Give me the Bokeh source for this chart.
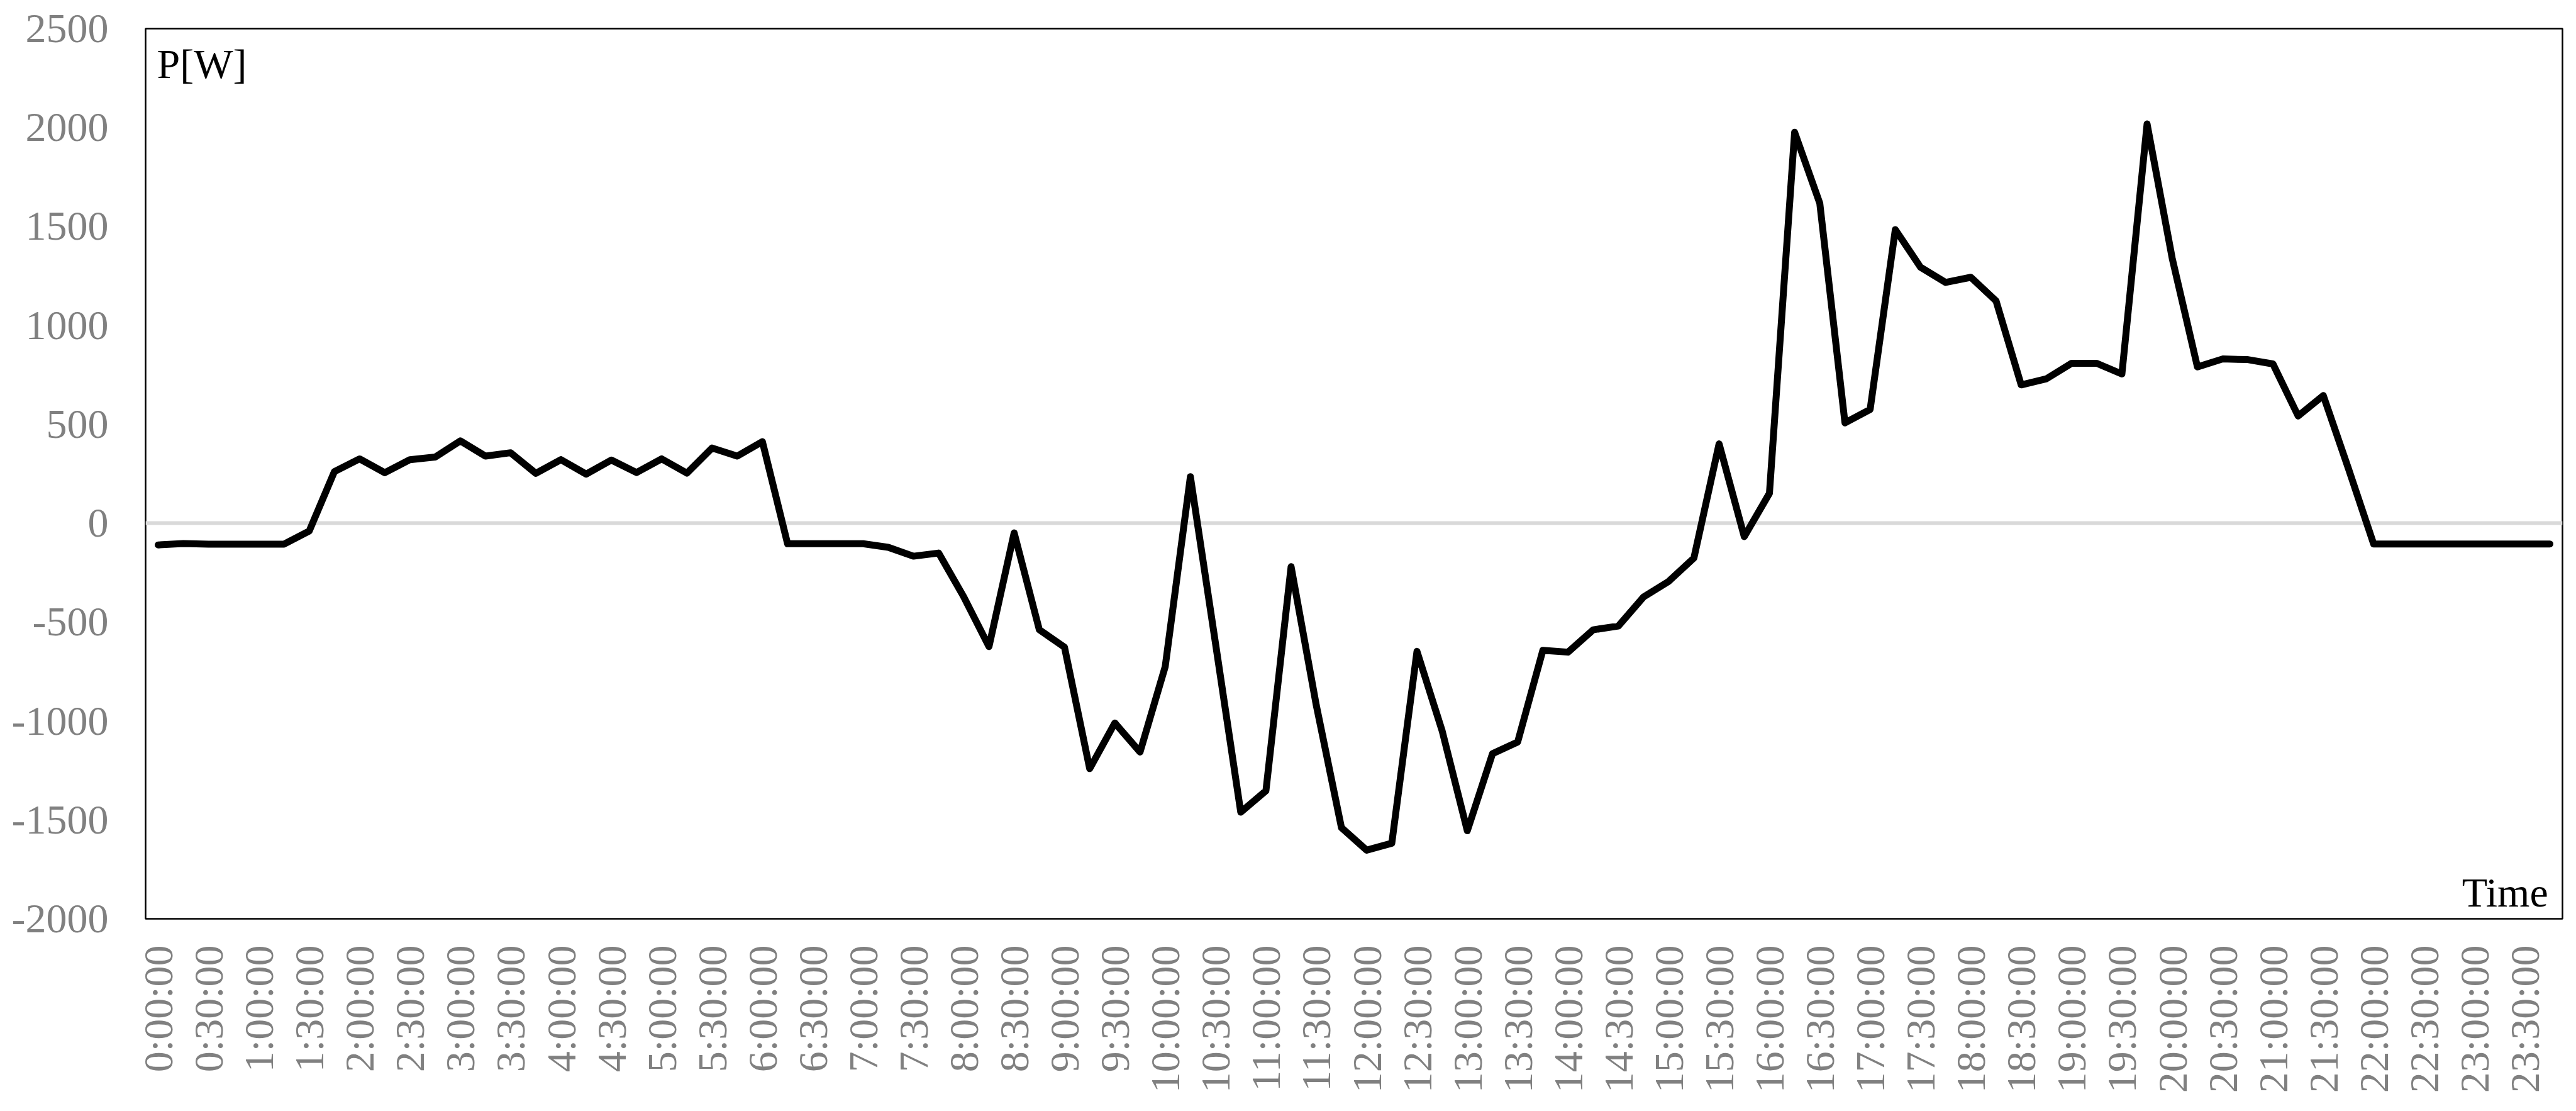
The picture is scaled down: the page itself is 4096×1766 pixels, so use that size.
from math import pi
from bokeh.plotting import figure
from bokeh.models import (Range1d, FixedTicker, CustomJSTickFormatter, Span, Label,
                          ColumnDataSource)
from bokeh.embed import file_html
from bokeh.resources import INLINE

# ---- data -------------------------------------------------------------
times = [f"{h}:{m:02d}:00" for h in range(24) for m in (0, 15, 30, 45)]

power = [
    -110, -103, -106, -106, -106, -106, -40, 261, 325, 255, 321, 334,
    416, 339, 356, 252, 321, 248, 319, 256, 325, 253, 380, 339,
    412, -104, -104, -104, -104, -122, -167, -151, -373, -624, -49, -539,
    -627, -1241, -1010, -1157, -725, 235, -610, -1461, -1353, -220, -920, -1539,
    -1653, -1618, -648, -1050, -1555, -1165, -1106, -643, -652, -539, -520, -373,
    -294, -176, 401, -68, 151, 1976, 1617, 507, 575, 1484, 1294, 1217,
    1243, 1124, 699, 730, 808, 808, 754, 2018, 1338, 790, 830, 827,
    805, 542, 645, 275, -105, -105, -105, -105, -105, -105, -105, -105,
]

y_ticks = [-2000, -1500, -1000, -500, 0, 500, 1000, 1500, 2000, 2500]
x_label_step = 2  # a label every 30 minutes

idx = list(range(len(times)))
src = ColumnDataSource(dict(i=idx, t=times, p=power))

FONT = "Liberation Serif"
GREY = "#808080"

p = figure(width=4080, height=1750, output_backend="svg", toolbar_location=None,
           x_range=Range1d(-0.5, len(times) - 0.5), y_range=Range1d(-2000, 2500),
           min_border_left=231, min_border_right=6, min_border_top=45,
           min_border_bottom=290)

p.background_fill_color = "white"
p.border_fill_color = "white"
p.outline_line_color = "black"
p.outline_line_width = 2.5
p.xgrid.visible = False
p.ygrid.visible = False

# zero line
p.add_layout(Span(location=0, dimension="width", line_color="#D9D9D9",
                  line_width=6, level="underlay"))

p.line("i", "p", source=src, line_color="black", line_width=11,
       line_join="round", line_cap="round")

# x axis
xa = p.xaxis[0]
xa.ticker = FixedTicker(ticks=[i for i in idx if i % x_label_step == 0])
xa.formatter = CustomJSTickFormatter(args=dict(labels=times),
                                     code="return labels[Math.round(tick)];")
xa.major_label_orientation = pi / 2
xa.major_label_text_font = FONT
xa.major_label_text_font_size = "66px"
xa.major_label_text_color = GREY
xa.major_label_standoff = 42
xa.axis_line_color = None
xa.major_tick_line_color = None
xa.minor_tick_line_color = None
xa.major_tick_in = 0
xa.major_tick_out = 0

# y axis
ya = p.yaxis[0]
ya.ticker = FixedTicker(ticks=y_ticks)
ya.formatter = CustomJSTickFormatter(code="return tick.toFixed(0);")
ya.major_label_text_font = FONT
ya.major_label_text_font_size = "66px"
ya.major_label_text_color = GREY
ya.major_label_standoff = 59
ya.axis_line_color = None
ya.major_tick_line_color = None
ya.minor_tick_line_color = None
ya.major_tick_in = 0
ya.major_tick_out = 0

# in-plot axis titles
p.add_layout(Label(x=-0.05, y=2322, text="P[W]", text_font=FONT,
                   text_font_size="66px", text_color="black",
                   text_align="left", text_baseline="alphabetic"))
p.add_layout(Label(x=94.93, y=-1867, text="Time", text_font=FONT,
                   text_font_size="66px", text_color="black",
                   text_align="right", text_baseline="alphabetic"))

open("out.html", "w").write(file_html(p, INLINE))
